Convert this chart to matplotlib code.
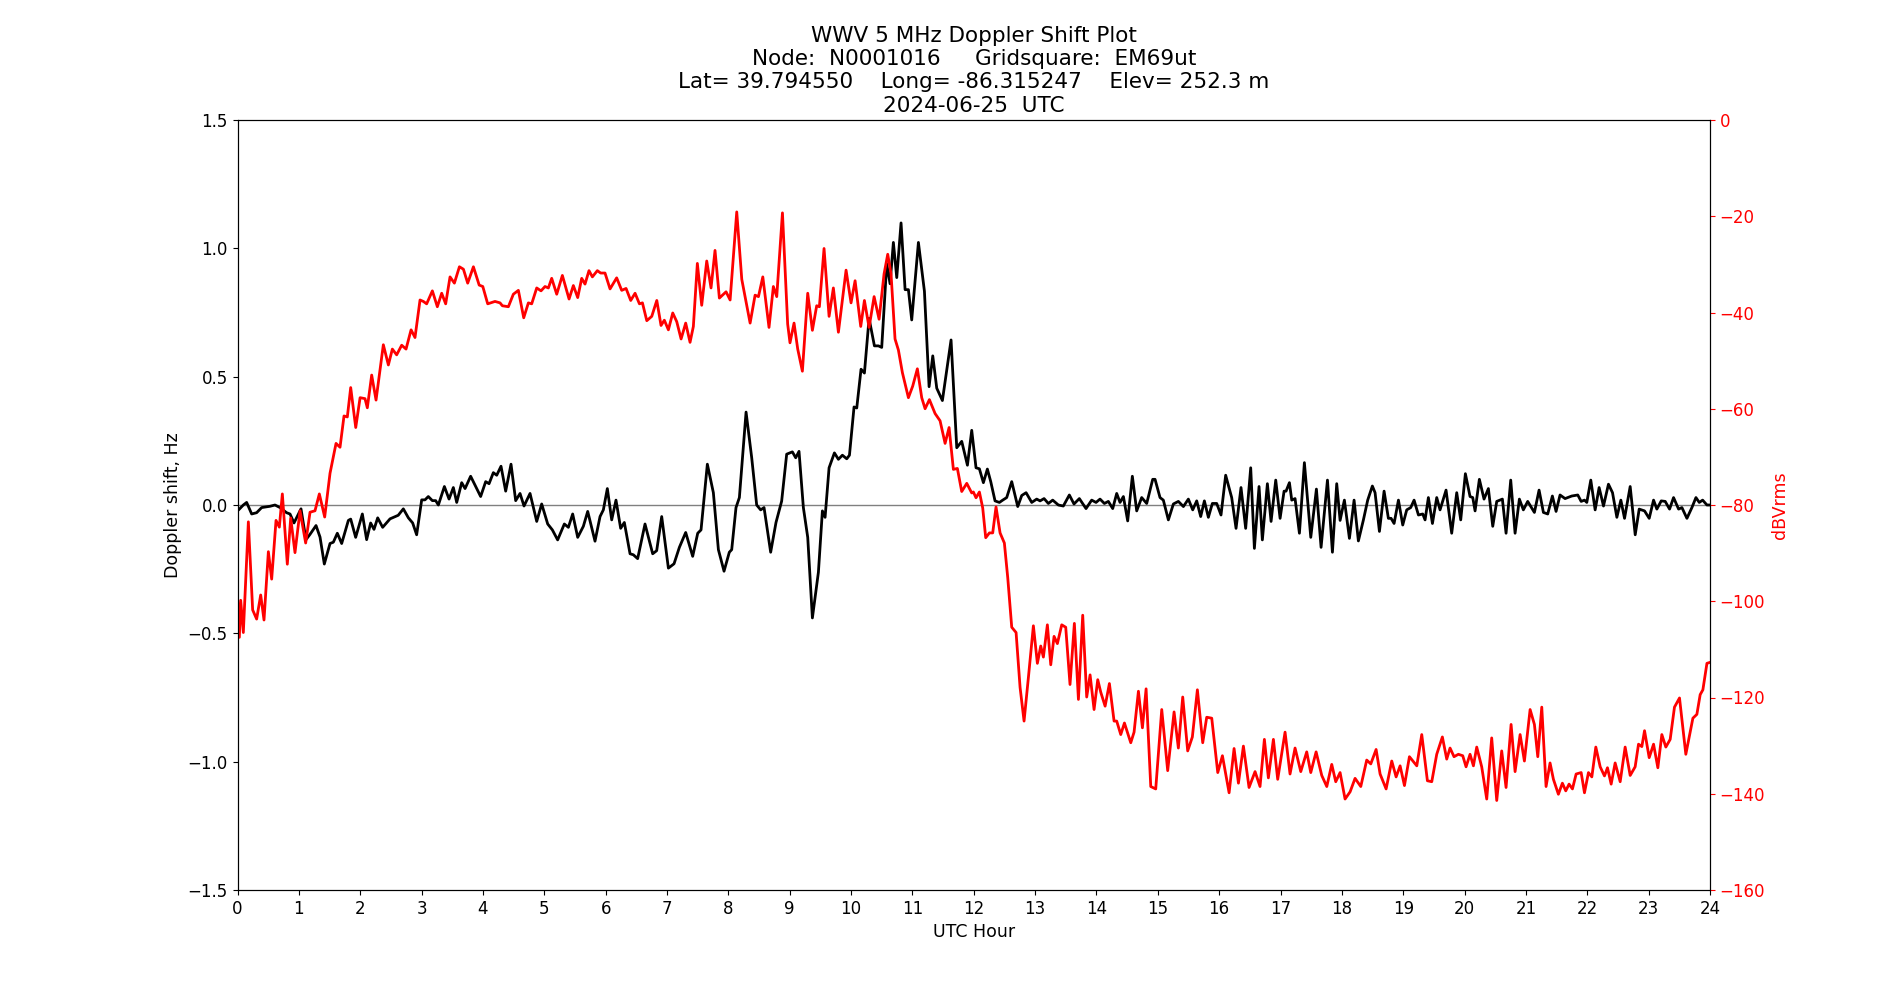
import matplotlib
matplotlib.use("Agg")
import matplotlib.pyplot as plt

# Doppler shift (Hz), black trace
doppler_hours = [0.0, 0.014, 0.095, 0.149, 0.231, 0.312, 0.394, 0.53, 0.611, 0.693, 0.80, 0.856, 0.921,
                 1.035, 1.116, 1.18, 1.28, 1.345, 1.415, 1.508, 1.562, 1.627, 1.698, 1.807, 1.845, 1.926,
                 2.035, 2.105, 2.17, 2.225, 2.285, 2.366, 2.486, 2.62, 2.703, 2.785, 2.855, 2.92,
                 3.002, 3.056, 3.11, 3.176, 3.23, 3.274, 3.372, 3.448, 3.518, 3.573, 3.654, 3.709, 3.8,
                 3.882, 3.963, 4.045, 4.1, 4.17, 4.225, 4.295, 4.371, 4.458, 4.534, 4.605, 4.67, 4.768,
                 4.877, 4.958, 5.056, 5.132, 5.218, 5.327, 5.393, 5.463, 5.545, 5.637, 5.708, 5.827,
                 5.909, 5.963, 6.028, 6.099, 6.169, 6.245, 6.305, 6.398, 6.452, 6.522, 6.642, 6.767,
                 6.832, 6.914, 7.023, 7.115, 7.202, 7.305, 7.419, 7.501, 7.555, 7.658, 7.756, 7.838,
                 7.93, 8.016, 8.055, 8.125, 8.18, 8.289, 8.381, 8.462, 8.527, 8.582, 8.69, 8.777,
                 8.869, 8.951, 9.044, 9.098, 9.152, 9.223, 9.294, 9.37, 9.468, 9.533, 9.577, 9.642,
                 9.729, 9.794, 9.859, 9.93, 9.974, 10.049, 10.093, 10.163, 10.218, 10.294, 10.381,
                 10.446, 10.5, 10.582, 10.636, 10.69, 10.745, 10.815, 10.881, 10.935, 10.989, 11.098,
                 11.196, 11.272, 11.332, 11.397, 11.489, 11.63, 11.723, 11.804, 11.897, 11.967,
                 12.037, 12.092, 12.157, 12.222, 12.277, 12.347, 12.418, 12.472, 12.537, 12.619,
                 12.717, 12.782, 12.853, 12.945, 13.026, 13.081, 13.146, 13.216, 13.287, 13.379,
                 13.46, 13.558, 13.634, 13.721, 13.83, 13.922, 13.993, 14.058, 14.129, 14.194, 14.265,
                 14.33, 14.384, 14.439, 14.509, 14.585, 14.656, 14.737, 14.819, 14.917, 14.955,
                 15.036, 15.09, 15.172, 15.254, 15.335, 15.417, 15.498, 15.569, 15.634, 15.699,
                 15.759, 15.824, 15.889, 15.96, 16.03, 16.106, 16.204, 16.275, 16.356, 16.432, 16.514,
                 16.574, 16.65, 16.704, 16.786, 16.846, 16.922, 16.993, 17.058, 17.09, 17.145, 17.183,
                 17.237, 17.308, 17.389, 17.493, 17.585, 17.661, 17.765, 17.846, 17.916, 17.971,
                 18.041, 18.123, 18.199, 18.269, 18.351, 18.421, 18.497, 18.541, 18.612, 18.688,
                 18.758, 18.802, 18.851, 18.922, 18.992, 19.057, 19.122, 19.177, 19.248, 19.318,
                 19.356, 19.41, 19.476, 19.546, 19.6, 19.698, 19.79, 19.872, 19.937, 20.013, 20.089,
                 20.133, 20.171, 20.241, 20.317, 20.388, 20.459, 20.524, 20.616, 20.676, 20.752,
                 20.823, 20.893, 20.958, 21.029, 21.138, 21.214, 21.285, 21.355, 21.431, 21.491,
                 21.556, 21.638, 21.747, 21.845, 21.9, 21.954, 21.992, 22.057, 22.128, 22.193, 22.264,
                 22.345, 22.411, 22.482, 22.547, 22.607, 22.699, 22.781, 22.846, 22.933, 23.009,
                 23.08, 23.134, 23.205, 23.27, 23.341, 23.406, 23.488, 23.542, 23.624, 23.705, 23.771,
                 23.825, 23.88, 23.95, 24.0]
doppler_hz = [-0.02, -0.02, 0.0, 0.01, -0.035, -0.03, -0.01, -0.005, 0.0, -0.01, -0.03, -0.035, -0.07,
              -0.015, -0.135, -0.115, -0.08, -0.125, -0.23, -0.15, -0.145, -0.11, -0.15, -0.06, -0.055, -0.126,
              -0.035, -0.135, -0.07, -0.095, -0.05, -0.087, -0.054, -0.04, -0.015, -0.05, -0.07, -0.116,
              0.02, 0.02, 0.033, 0.017, 0.017, 0.0, 0.072, 0.023, 0.068, 0.01, 0.087, 0.064, 0.112,
              0.072, 0.033, 0.091, 0.083, 0.126, 0.116, 0.151, 0.054, 0.159, 0.017, 0.045, -0.004, 0.045,
              -0.064, 0.004, -0.074, -0.097, -0.136, -0.074, -0.087, -0.035, -0.126, -0.083, -0.025, -0.141,
              -0.045, -0.019, 0.064, -0.058, 0.019, -0.091, -0.068, -0.19, -0.194, -0.209, -0.074, -0.19,
              -0.178, -0.045, -0.246, -0.229, -0.165, -0.107, -0.2, -0.11, -0.097, 0.159, 0.048, -0.174,
              -0.258, -0.184, -0.174, -0.01, 0.029, 0.362, 0.184, 0.0, -0.019, -0.01, -0.184, -0.068,
              0.015, 0.198, 0.207, 0.184, 0.209, -0.01, -0.126, -0.44, -0.262, -0.023, -0.048, 0.145,
              0.203, 0.178, 0.194, 0.18, 0.194, 0.382, 0.378, 0.529, 0.514, 0.727, 0.62,
              0.62, 0.614, 0.94, 0.862, 1.023, 0.886, 1.099, 0.839, 0.839, 0.721, 1.023,
              0.833, 0.461, 0.581, 0.455, 0.407, 0.643, 0.223, 0.248, 0.155, 0.291,
              0.145, 0.141, 0.087, 0.14, 0.091, 0.016, 0.01, 0.019, 0.029, 0.091,
              -0.006, 0.037, 0.048, 0.01, 0.023, 0.016, 0.025, 0.006, 0.019, 0.0,
              -0.004, 0.039, 0.004, 0.025, -0.014, 0.019, 0.01, 0.023, 0.006, 0.014, -0.014,
              0.045, 0.01, 0.033, -0.062, 0.112, -0.023, 0.029, 0.006, 0.1, 0.1,
              0.029, 0.019, -0.058, 0.004, 0.014, -0.006, 0.023, -0.019, 0.016, -0.045,
              0.016, -0.048, 0.006, 0.006, -0.039, 0.116, 0.029, -0.091, 0.068, -0.091, 0.145,
              -0.169, 0.072, -0.136, 0.083, -0.064, 0.097, -0.052, 0.054, 0.054, 0.087, 0.019,
              0.025, -0.11, 0.165, -0.126, 0.062, -0.165, 0.097, -0.184, 0.083, -0.06,
              0.019, -0.13, 0.019, -0.14, -0.058, 0.019, 0.074, 0.048, -0.103, 0.054,
              -0.052, -0.052, -0.072, 0.019, -0.078, -0.019, -0.01, 0.019, -0.039, -0.035,
              -0.058, 0.029, -0.072, 0.029, -0.019, 0.058, -0.11, 0.048, -0.058, 0.122, 0.033,
              0.029, -0.023, 0.1, 0.023, 0.064, -0.083, 0.014, 0.023, -0.11, 0.097,
              -0.11, 0.023, -0.019, 0.014, -0.029, 0.058, -0.029, -0.035, 0.035, -0.025,
              0.039, 0.025, 0.035, 0.039, 0.014, 0.019, 0.01, 0.097, -0.019, 0.068, -0.004,
              0.081, 0.048, -0.048, 0.019, -0.052, 0.072, -0.116, -0.016, -0.023, -0.052,
              0.019, -0.016, 0.016, 0.014, -0.016, 0.029, -0.016, -0.01, -0.052, -0.01, 0.029,
              0.01, 0.019, 0.0, 0.0]

# Received power (dBVrms), red trace
power_hours = [0.0, 0.03, 0.052, 0.095, 0.177, 0.247, 0.312, 0.378, 0.432, 0.503, 0.557, 0.628, 0.682,
               0.731, 0.812, 0.867, 0.937, 1.019, 1.111, 1.182, 1.263, 1.334, 1.421, 1.508, 1.606,
               1.671, 1.736, 1.79, 1.845, 1.927, 1.998, 2.078, 2.116, 2.187, 2.258, 2.377, 2.459,
               2.524, 2.594, 2.676, 2.747, 2.829, 2.893, 2.975, 3.029, 3.083, 3.176, 3.257, 3.328,
               3.393, 3.464, 3.535, 3.617, 3.682, 3.752, 3.845, 3.939, 3.998, 4.078, 4.197, 4.279,
               4.317, 4.415, 4.496, 4.578, 4.665, 4.741, 4.795, 4.877, 4.947, 5.012, 5.067, 5.121,
               5.203, 5.295, 5.404, 5.474, 5.545, 5.61, 5.664, 5.729, 5.784, 5.865, 5.919, 5.99,
               6.072, 6.18, 6.262, 6.333, 6.409, 6.48, 6.551, 6.6, 6.671, 6.752, 6.834, 6.903, 6.957,
               7.023, 7.094, 7.159, 7.23, 7.305, 7.376, 7.43, 7.495, 7.566, 7.648, 7.718, 7.783,
               7.854, 7.963, 8.029, 8.137, 8.219, 8.355, 8.436, 8.491, 8.562, 8.663, 8.734, 8.789,
               8.882, 8.967, 9.005, 9.071, 9.131, 9.207, 9.294, 9.37, 9.44, 9.484, 9.56, 9.642,
               9.712, 9.794, 9.919, 10.0, 10.066, 10.158, 10.218, 10.294, 10.376, 10.457, 10.538,
               10.598, 10.652, 10.717, 10.772, 10.837, 10.935, 11.005, 11.081, 11.152, 11.207,
               11.277, 11.37, 11.451, 11.533, 11.598, 11.668, 11.733, 11.804, 11.886, 11.967,
               11.994, 12.037, 12.092, 12.146, 12.195, 12.255, 12.309, 12.363, 12.429, 12.499,
               12.554, 12.619, 12.69, 12.755, 12.82, 12.891, 12.972, 13.037, 13.092, 13.135, 13.2,
               13.255, 13.309, 13.363, 13.434, 13.499, 13.569, 13.64, 13.706, 13.776, 13.841,
               13.896, 13.961, 14.021, 14.07, 14.141, 14.211, 14.287, 14.33, 14.396, 14.456, 14.559,
               14.613, 14.684, 14.749, 14.809, 14.885, 14.966, 15.064, 15.161, 15.265, 15.335,
               15.406, 15.487, 15.563, 15.645, 15.732, 15.797, 15.879, 15.977, 16.053, 16.162,
               16.243, 16.314, 16.395, 16.487, 16.585, 16.666, 16.737, 16.802, 16.884, 16.954,
               17.074, 17.155, 17.237, 17.33, 17.427, 17.493, 17.58, 17.672, 17.754, 17.835, 17.9,
               17.971, 18.052, 18.134, 18.215, 18.308, 18.405, 18.471, 18.558, 18.623, 18.721,
               18.813, 18.884, 18.949, 19.02, 19.101, 19.221, 19.302, 19.394, 19.465, 19.546,
               19.638, 19.709, 19.763, 19.828, 19.899, 19.97, 20.024, 20.089, 20.144, 20.198,
               20.279, 20.361, 20.442, 20.524, 20.605, 20.676, 20.758, 20.823, 20.905, 20.975,
               21.068, 21.138, 21.193, 21.258, 21.328, 21.393, 21.448, 21.529, 21.594, 21.649,
               21.703, 21.758, 21.818, 21.9, 21.954, 22.019, 22.074, 22.139, 22.21, 22.28, 22.329,
               22.389, 22.454, 22.536, 22.617, 22.699, 22.78, 22.835, 22.889, 22.933, 23.009, 23.08,
               23.15, 23.215, 23.28, 23.351, 23.421, 23.503, 23.606, 23.721, 23.786, 23.84, 23.884,
               23.95, 24.0]
power_dbv = [-99.0, -107.5, -99.8, -106.5, -83.5, -101.8, -103.7, -98.7, -103.9, -89.7, -95.4, -83.2, -84.6,
             -77.7, -92.3, -82.7, -89.9, -81.2, -87.9, -81.5, -81.2, -77.7, -82.5, -73.4, -67.2,
             -68.0, -61.5, -61.7, -55.6, -63.9, -57.7, -57.9, -59.8, -53.0, -58.2, -46.7, -50.9,
             -47.6, -48.8, -46.8, -47.6, -43.6, -45.2, -37.4, -37.7, -38.2, -35.5, -38.8, -36.0,
             -38.2, -32.6, -33.9, -30.5, -31.0, -33.9, -30.5, -34.3, -34.6, -38.2, -37.7, -38.0,
             -38.6, -38.8, -36.2, -35.4, -41.1, -38.0, -38.2, -34.9, -35.5, -34.6, -34.9, -32.9,
             -36.2, -32.3, -37.2, -34.4, -36.9, -32.9, -34.1, -31.3, -32.6, -31.3, -31.8, -31.8,
             -35.1, -32.8, -35.4, -35.0, -37.5, -36.0, -38.2, -38.0, -41.7, -40.8, -37.5, -42.7, -41.6,
             -43.6, -40.1, -41.9, -45.5, -42.2, -46.2, -42.9, -29.8, -38.5, -29.3, -34.9, -27.1,
             -37.0, -35.7, -37.4, -19.1, -33.1, -42.2, -36.4, -36.7, -32.6, -43.1, -34.6, -36.7,
             -19.3, -42.4, -46.3, -42.2, -47.6, -52.2, -36.0, -43.7, -38.6, -38.8, -26.7, -40.8,
             -34.9, -44.1, -31.2, -38.0, -33.4, -42.9, -37.5, -43.1, -36.7, -41.4, -32.0,
             -27.9, -32.0, -45.5, -47.8, -52.5, -57.7, -55.3, -51.7, -57.7, -60.0,
             -58.1, -61.0, -62.5, -67.2, -63.9, -72.6, -72.4, -77.2, -75.5, -77.5,
             -77.3, -78.5, -77.3, -80.6, -86.8, -85.8, -85.8, -80.4, -85.8, -87.9,
             -95.1, -105.4, -106.5, -117.9, -124.9, -115.8, -105.1, -112.9, -109.3, -111.6, -104.9,
             -113.2, -107.3, -108.8, -104.9, -105.4, -117.3, -104.6, -120.4, -102.9, -119.9,
             -115.3, -122.5, -116.3, -118.9, -121.8, -117.1, -124.9, -124.9, -127.7, -125.3, -129.4,
             -127.2, -118.7, -126.3, -118.2, -138.5, -139.0, -122.5, -135.2, -123.0, -130.5,
             -119.9, -131.1, -128.2, -118.4, -129.4, -124.1, -124.3, -135.6, -132.1, -139.8,
             -130.6, -137.8, -130.1, -138.7, -135.4, -138.5, -128.7, -136.7, -128.7, -137.0,
             -127.2, -135.9, -130.5, -135.4, -131.3, -135.6, -131.3, -136.2, -138.5, -133.9, -137.5,
             -135.6, -141.1, -139.6, -136.8, -138.5, -133.0, -133.8, -130.8, -135.9, -139.0,
             -133.2, -136.5, -134.2, -138.3, -132.3, -134.2, -127.7, -137.3, -137.5, -131.8,
             -128.2, -132.8, -130.5, -132.3, -131.8, -132.1, -134.4, -131.8, -134.2, -130.3,
             -134.4, -141.1, -128.4, -141.4, -131.1, -138.7, -125.6, -135.4, -127.7, -133.2,
             -122.5, -125.6, -132.3, -122.0, -138.5, -133.6, -137.0, -140.1, -137.8, -139.4,
             -138.0, -139.0, -135.9, -135.6, -139.8, -135.6, -136.5, -130.3, -134.4, -136.3, -134.6,
             -138.0, -133.6, -137.5, -130.3, -136.2, -134.4, -129.7, -130.2, -126.9, -132.5, -129.7,
             -134.6, -127.7, -130.3, -128.7, -122.0, -120.1, -131.8, -124.3, -123.5, -119.4, -118.4,
             -112.9, -112.7]

x_ticks = list(range(0, 25))
title_lines = ["WWV 5 MHz Doppler Shift Plot",
               "Node:  N0001016     Gridsquare:  EM69ut",
               "Lat= 39.794550    Long= -86.315247    Elev= 252.3 m",
               "2024-06-25  UTC"]

plt.rcParams['font.family'] = ['DejaVu Sans']
plt.rcParams['font.size'] = 12

fig = plt.figure(figsize=(19, 10), dpi=100)
ax = fig.add_subplot(111)
ax.axhline(0, color='gray', linewidth=1)
ax.plot(doppler_hours, doppler_hz, color='black', linewidth=2)
ax.set_xlim(0, 24)
ax.set_ylim(-1.5, 1.5)
ax.set_xticks(x_ticks)
ax.set_yticks([-1.5, -1.0, -0.5, 0.0, 0.5, 1.0, 1.5])
ax.set_xlabel("UTC Hour", fontsize=12.5)
ax.set_ylabel("Doppler shift, Hz", fontsize=12.5)
ax.set_title("\n".join(title_lines), fontsize=15.5)

ax2 = ax.twinx()
ax2.plot(power_hours, power_dbv, color='red', linewidth=2)
ax2.set_ylim(-160, 0)
ax2.set_yticks(range(-160, 1, 20))
ax2.set_ylabel("dBVrms", color='red', fontsize=12.5)
ax2.tick_params(axis='y', colors='red')

fig.savefig("out.png", dpi=100)
